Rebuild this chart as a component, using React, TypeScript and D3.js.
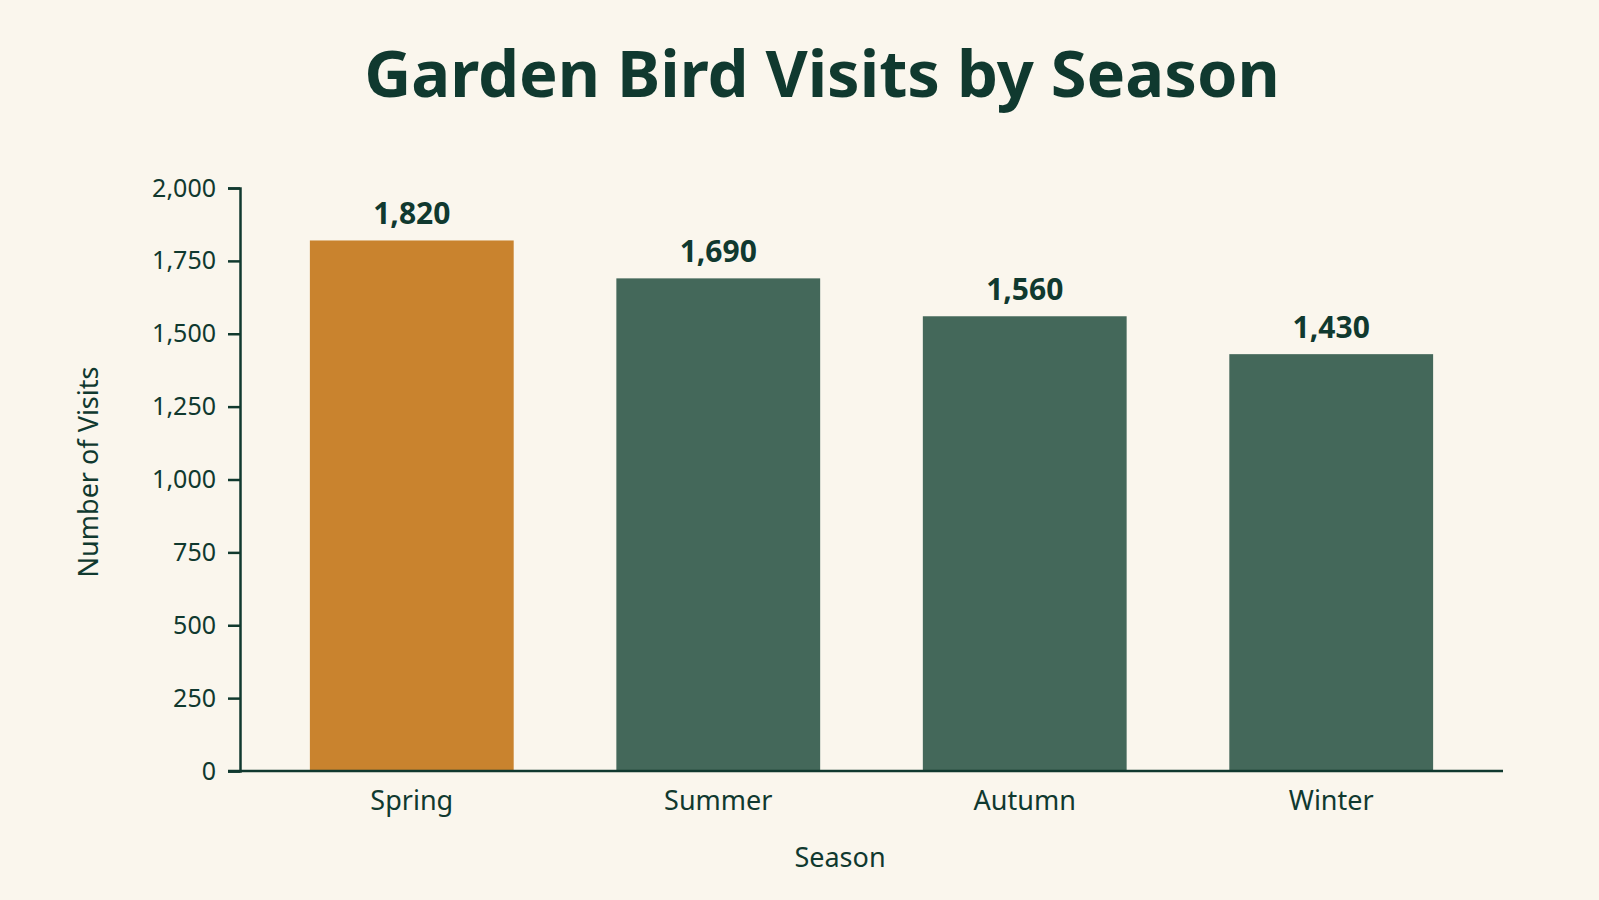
import * as d3 from "d3";
import { useEffect, useRef } from "react";

const seasons = ["Spring", "Summer", "Autumn", "Winter"];
const visits = [1820, 1690, 1560, 1430];
const barColors = ["#c9832e", "#44685a", "#44685a", "#44685a"];
const yTicks = [0, 250, 500, 750, 1000, 1250, 1500, 1750, 2000];

const ink = "#10392f";
const font = "'Noto Sans', sans-serif";

const App = () => {
    const svgRef = useRef<SVGSVGElement | null>(null);

    const dimensions = { width: 1599, height: 900 };
    const margin = { top: 188, right: 96, bottom: 129, left: 240 };

    useEffect(() => {
        const svg = d3.select(svgRef.current);
        svg.selectAll("*").remove();

        const xScale = d3
            .scaleBand()
            .domain(seasons)
            .range([margin.left, dimensions.width - margin.right])
            .paddingInner(0.335)
            .paddingOuter(0.228);

        const yScale = d3
            .scaleLinear()
            .domain([0, 2000])
            .range([dimensions.height - margin.bottom, margin.top]);

        svg.append("rect")
            .attr("width", dimensions.width)
            .attr("height", dimensions.height)
            .attr("fill", "#faf6ed");

        // Title
        svg.append("text")
            .attr("x", 822)
            .attr("y", 97)
            .attr("text-anchor", "middle")
            .attr("font-family", font)
            .attr("font-weight", 700)
            .attr("font-size", 65)
            .attr("fill", ink)
            .text("Garden Bird Visits by Season");

        // Bars
        svg.append("g")
            .selectAll("rect")
            .data(visits)
            .join("rect")
            .attr("x", (_, i) => xScale(seasons[i]) as number)
            .attr("y", (d) => yScale(d))
            .attr("width", xScale.bandwidth())
            .attr("height", (d) => yScale(0) - yScale(d))
            .attr("fill", (_, i) => barColors[i]);

        // Value labels
        svg.append("g")
            .selectAll("text")
            .data(visits)
            .join("text")
            .attr("x", (_, i) => (xScale(seasons[i]) as number) + xScale.bandwidth() / 2)
            .attr("y", (d) => yScale(d) - 16)
            .attr("text-anchor", "middle")
            .attr("font-family", font)
            .attr("font-weight", 700)
            .attr("font-size", 30)
            .attr("fill", ink)
            .text((d) => d3.format(",")(d));

        const xAxis = d3.axisBottom(xScale).tickSize(0).tickPadding(20);
        const yAxis = d3
            .axisLeft(yScale)
            .tickValues(yTicks)
            .tickFormat(d3.format(",") as any)
            .tickSizeOuter(0)
            .tickSize(12)
            .tickPadding(12);

        const gx = svg
            .append("g")
            .attr("transform", `translate(0, ${dimensions.height - margin.bottom})`)
            .call(xAxis);
        gx.select(".domain")
            .attr("d", `M${margin.left - 12},0H${dimensions.width - margin.right}`)
            .attr("stroke", ink)
            .attr("stroke-width", 2.5);
        gx.selectAll("text")
            .attr("font-family", font)
            .attr("font-size", 27)
            .attr("fill", ink)
            .attr("dy", "0.71em");

        const gy = svg
            .append("g")
            .attr("transform", `translate(${margin.left}, 0)`)
            .call(yAxis);
        gy.select(".domain").attr("stroke", ink).attr("stroke-width", 2.5);
        gy.selectAll("line").attr("stroke", ink).attr("stroke-width", 2.5);
        gy.selectAll("text")
            .attr("font-family", font)
            .attr("font-size", 25)
            .attr("fill", ink);

        // Axis titles
        svg.append("text")
            .attr("x", 840)
            .attr("y", 867)
            .attr("text-anchor", "middle")
            .attr("font-family", font)
            .attr("font-size", 27)
            .attr("fill", ink)
            .text("Season");

        svg.append("text")
            .attr("transform", `translate(98, 472) rotate(-90)`)
            .attr("text-anchor", "middle")
            .attr("font-family", font)
            .attr("font-size", 27)
            .attr("fill", ink)
            .text("Number of Visits");
    }, []);

    return (
        <svg
            ref={svgRef}
            width={dimensions.width}
            height={dimensions.height}
            style={{ position: "absolute", left: 0, top: 0 }}
        />
    );
};

export default App;
